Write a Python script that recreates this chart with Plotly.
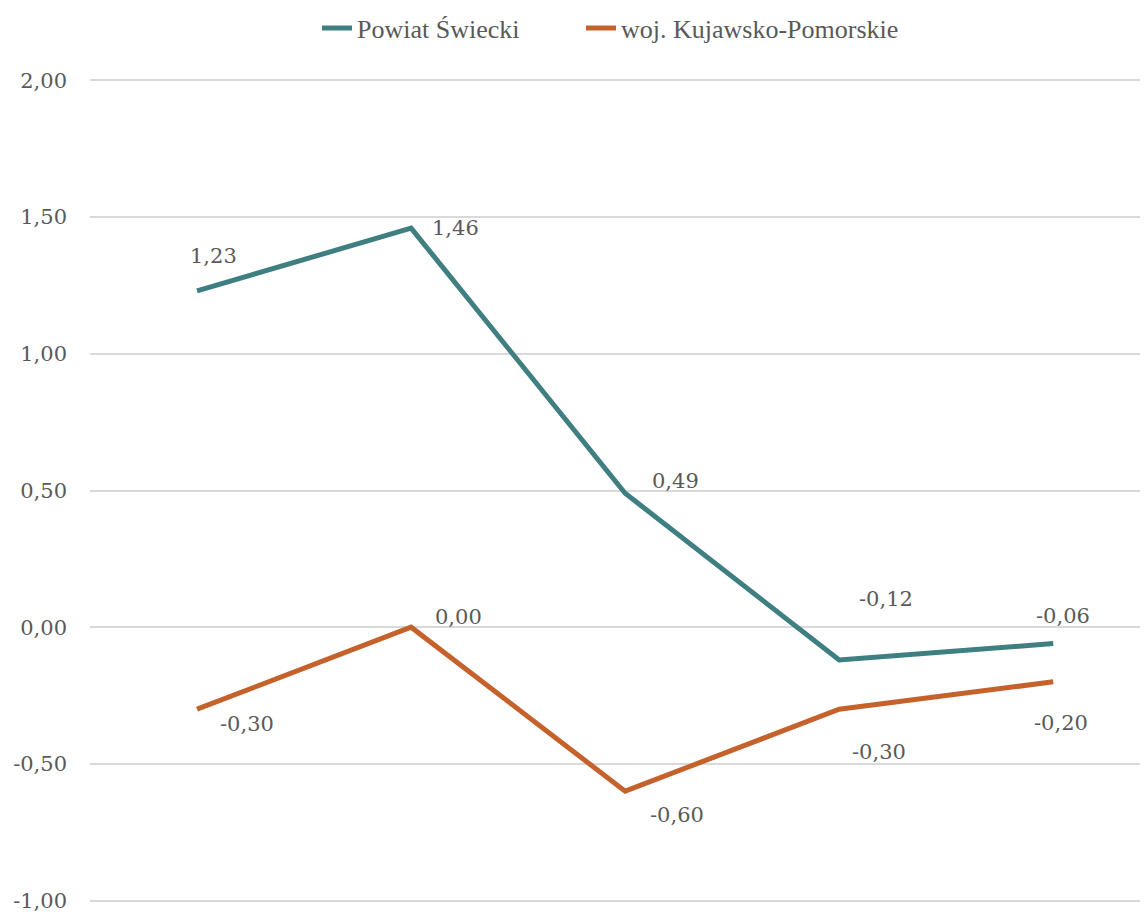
import plotly.graph_objects as go

categories = ["1", "2", "3", "4", "5"]
powiat = [1.23, 1.46, 0.49, -0.12, -0.06]
wojewodztwo = [-0.30, 0.00, -0.60, -0.30, -0.20]
y_ticks = [-1.0, -0.5, 0.0, 0.5, 1.0, 1.5, 2.0]

TEAL = "#3F7F82"
ORANGE = "#C5622C"
TEXT = "#595959"

# label offsets (px) as placed in the source chart
powiat_shift = [(16, 35), (44, 0), (50, 12), (47, 61), (10, 28)]
woj_shift = [(50, -15), (47, 10), (52, -24), (40, -43), (8, -41)]


def fmt(v):
    return f"{v:.2f}".replace(".", ",")


fig = go.Figure()
fig.add_trace(go.Scatter(x=categories, y=powiat, mode="lines", name="Powiat Świecki",
                         line={"color": TEAL, "width": 5}, legend="legend"))
fig.add_trace(go.Scatter(x=categories, y=wojewodztwo, mode="lines", name="woj. Kujawsko-Pomorskie",
                         line={"color": ORANGE, "width": 5}, legend="legend2"))

for vals, shifts in [(powiat, powiat_shift), (wojewodztwo, woj_shift)]:
    for i, (v, (dx, dy)) in enumerate(zip(vals, shifts)):
        fig.add_annotation(x=i, y=v, text=fmt(v), showarrow=False, xshift=dx, yshift=dy,
                           font={"family": "DejaVu Serif", "size": 21, "color": TEXT})

legend_style = {"orientation": "h", "xref": "container", "xanchor": "left",
                "yref": "container", "y": 0.978, "yanchor": "middle",
                "font": {"family": "Liberation Serif", "size": 26, "color": TEXT}}

# page body has an 8px margin, so the plot is pulled up/left by that much
fig.update_layout(
    width=1148,
    height=912,
    margin={"l": 82, "r": 0, "t": 67, "b": 14, "autoexpand": False},
    plot_bgcolor="white",
    paper_bgcolor="white",
    font={"family": "DejaVu Serif", "color": TEXT, "size": 21},
    showlegend=True,
    legend={**legend_style, "x": 309 / 1148},
    legend2={**legend_style, "x": 573 / 1148},
)
fig.update_xaxes(type="category", range=[-0.5, 4.48], showticklabels=False, showgrid=False,
                 zeroline=False, showline=False)
fig.update_yaxes(range=[-1.02, 2.02], tickvals=y_ticks, ticktext=[fmt(v) for v in y_ticks],
                 showgrid=True, gridcolor="#D9D9D9", gridwidth=2, zeroline=False, showline=False,
                 ticks="", ticklabelstandoff=22)

fig.write_html("out.html")
